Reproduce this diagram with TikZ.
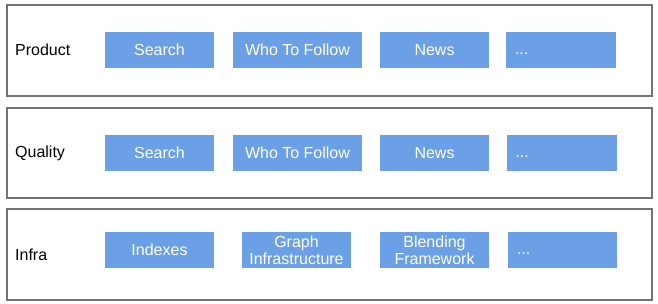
\documentclass[tikz,border=0pt]{standalone}
\usepackage{fontspec}
\setmainfont{Liberation Sans}
\definecolor{tileblue}{RGB}{108,160,230}
\definecolor{framegray}{RGB}{115,115,115}

\begin{document}
\begin{tikzpicture}[x=1pt, y=-1pt,
    row/.style={draw=framegray, line width=1.6pt, inner sep=0pt},
    tile/.style={fill=tileblue, text=white, minimum height=36pt, inner sep=0pt,
                 align=center, font=\fontsize{16}{17}\selectfont},
    moretile/.style={tile, text height=11.5pt, text depth=3.5pt, align=left},
    lab/.style={anchor=west, inner sep=0pt, font=\fontsize{16}{18}\selectfont}]
    \useasboundingbox (0,0) rectangle (658,303);

    % 三个层次的外框
    \node[row, minimum width=645pt, minimum height=91pt] (productrow) at (329.5,50.5) {};
    \node[row, minimum width=645pt, minimum height=90pt] (qualityrow) at (329.5,153) {};
    \node[row, minimum width=645pt, minimum height=91pt] (infrarow) at (329.5,254.5) {};

    % 左侧的层次名称
    \node[lab] (productlab) at (15,50) {Product};
    \node[lab] (qualitylab) at (15,153) {Quality};
    \node[lab] (infralab) at (15,255) {Infra};

    % Product 层
    \node[tile, minimum width=109pt] (psearch) at (159.5,50) {Search};
    \node[tile, minimum width=129pt] (pwho) at (297.5,50) {Who To Follow};
    \node[tile, minimum width=109pt] (pnews) at (434.5,50) {News};
    \node[moretile, minimum width=110pt, text width=92pt] (pmore) at (561,50) {...};

    % Quality 层
    \node[tile, minimum width=109pt] (qsearch) at (159.5,153) {Search};
    \node[tile, minimum width=129pt] (qwho) at (297.5,153) {Who To Follow};
    \node[tile, minimum width=109pt] (qnews) at (434.5,153) {News};
    \node[moretile, minimum width=110pt, text width=92pt] (qmore) at (561.5,153) {...};

    % Infra 层
    \node[tile, minimum width=109pt] (iindex) at (159.5,250) {Indexes};
    \node[tile, minimum width=109pt] (igraph) at (296.5,250) {Graph\\Infrastructure};
    \node[tile, minimum width=109pt] (iblend) at (434.5,250) {Blending\\Framework};
    \node[moretile, minimum width=109pt, text width=91pt] (imore) at (562.5,250) {...};
\end{tikzpicture}
\end{document}
